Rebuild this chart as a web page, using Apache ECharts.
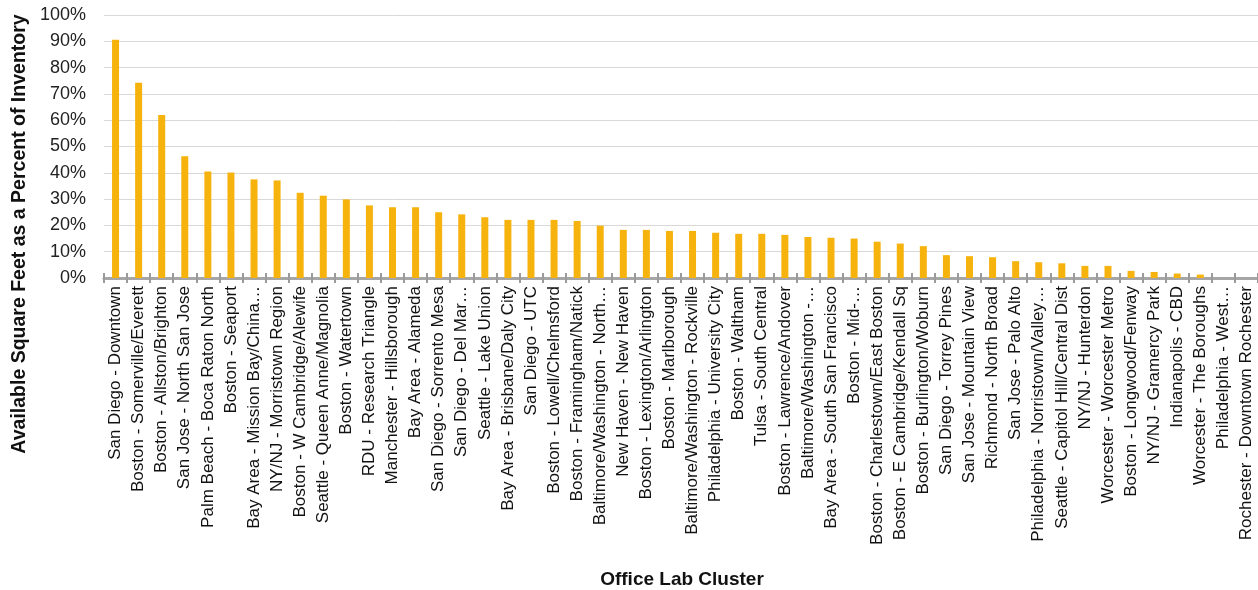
<!DOCTYPE html>
<html>
<head>
<meta charset="utf-8">
<script src="https://cdn.jsdelivr.net/npm/echarts@6/dist/echarts.min.js"></script>
<style>
html,body{margin:0;padding:0;background:#fff;}
#chart{width:1258px;height:590px;}
</style>
</head>
<body>
<div id="chart"></div>
<script>
var categories = [
  "San Diego - Downtown",
  "Boston - Somerville/Everett",
  "Boston - Allston/Brighton",
  "San Jose - North San Jose",
  "Palm Beach - Boca Raton North",
  "Boston - Seaport",
  "Bay Area - Mission Bay/China\u2026",
  "NY/NJ - Morristown Region",
  "Boston - W Cambridge/Alewife",
  "Seattle - Queen Anne/Magnolia",
  "Boston - Watertown",
  "RDU - Research Triangle",
  "Manchester - Hillsborough",
  "Bay Area - Alameda",
  "San Diego - Sorrento Mesa",
  "San Diego - Del Mar\u2026",
  "Seattle - Lake Union",
  "Bay Area - Brisbane/Daly City",
  "San Diego - UTC",
  "Boston - Lowell/Chelmsford",
  "Boston - Framingham/Natick",
  "Baltimore/Washington - North\u2026",
  "New Haven - New Haven",
  "Boston - Lexington/Arlington",
  "Boston - Marlborough",
  "Baltimore/Washington - Rockville",
  "Philadelphia - University City",
  "Boston - Waltham",
  "Tulsa - South Central",
  "Boston - Lawrence/Andover",
  "Baltimore/Washington -\u2026",
  "Bay Area - South San Francisco",
  "Boston - Mid-\u2026",
  "Boston - Charlestown/East Boston",
  "Boston - E Cambridge/Kendall Sq",
  "Boston - Burlington/Woburn",
  "San Diego - Torrey Pines",
  "San Jose - Mountain View",
  "Richmond - North Broad",
  "San Jose - Palo Alto",
  "Philadelphia - Norristown/Valley\u2026",
  "Seattle - Capitol Hill/Central Dist",
  "NY/NJ - Hunterdon",
  "Worcester - Worcester Metro",
  "Boston - Longwood/Fenway",
  "NY/NJ - Gramercy Park",
  "Indianapolis - CBD",
  "Worcester - The Boroughs",
  "Philadelphia - West\u2026",
  "Rochester - Downtown Rochester"
];
var availablePct = [
  90.6, 74.2, 62.0, 46.3, 40.5, 40.1, 37.5, 37.1, 32.4, 31.3,
  29.9, 27.6, 26.9, 26.9, 25.0, 24.2, 23.1, 22.1, 22.1, 22.1,
  21.7, 19.9, 18.3, 18.3, 17.9, 17.9, 17.2, 16.8, 16.8, 16.4,
  15.6, 15.3, 15.0, 13.8, 13.1, 12.1, 8.7, 8.3, 7.9, 6.4,
  6.0, 5.6, 4.6, 4.6, 2.7, 2.3, 1.7, 1.3, 0, 0
];
var yTickMin = 0, yTickMax = 100, yTickStep = 10;
var yTitle = "Available Square Feet as a Percent of Inventory";
var xTitle = "Office Lab Cluster";

var FONT = "'Liberation Sans', Arial, sans-serif";
var chart = echarts.init(document.getElementById('chart'));
chart.setOption({
  backgroundColor: '#ffffff',
  animation: false,
  grid: { left: 104, right: 0, top: 15, bottom: 312 },
  xAxis: [{
    type: 'category',
    data: categories,
    position: 'bottom',
    axisLine: { show: true, lineStyle: { color: '#a6a6a6', width: 3 } },
    axisTick: { show: true, interval: 0, length: 5, lineStyle: { color: '#9a9a9a', width: 2 } },
    axisLabel: { interval: 0, rotate: 90, margin: 8, fontSize: 17, color: '#111', fontFamily: FONT },
    splitLine: { show: false }
  }, {
    type: 'category',
    data: categories,
    position: 'bottom',
    axisLine: { show: false },
    axisTick: { show: true, interval: 0, inside: true, length: 5, lineStyle: { color: '#9a9a9a', width: 2 } },
    axisLabel: { show: false, interval: 0 },
    splitLine: { show: false }
  }],
  yAxis: {
    type: 'value',
    min: yTickMin, max: yTickMax, interval: yTickStep,
    axisLine: { show: false },
    axisTick: { show: false },
    axisLabel: { formatter: '{value}%', fontSize: 18, color: '#222', margin: 18, fontFamily: FONT },
    splitLine: { lineStyle: { color: '#d9d9d9', width: 1 } }
  },
  series: [{
    type: 'bar',
    xAxisIndex: 0,
    data: availablePct,
    barWidth: 7,
    itemStyle: { color: '#f6b30e' }
  }],
  graphic: [{
    type: 'text',
    x: 20, y: 234,
    rotation: Math.PI / 2,
    style: { text: yTitle, font: 'bold 19.5px ' + FONT, fill: '#111', textAlign: 'center', textVerticalAlign: 'middle' }
  }, {
    type: 'text',
    x: 682, y: 580,
    style: { text: xTitle, font: 'bold 19px ' + FONT, fill: '#111', textAlign: 'center', textVerticalAlign: 'middle' }
  }]
});
</script>
</body>
</html>
